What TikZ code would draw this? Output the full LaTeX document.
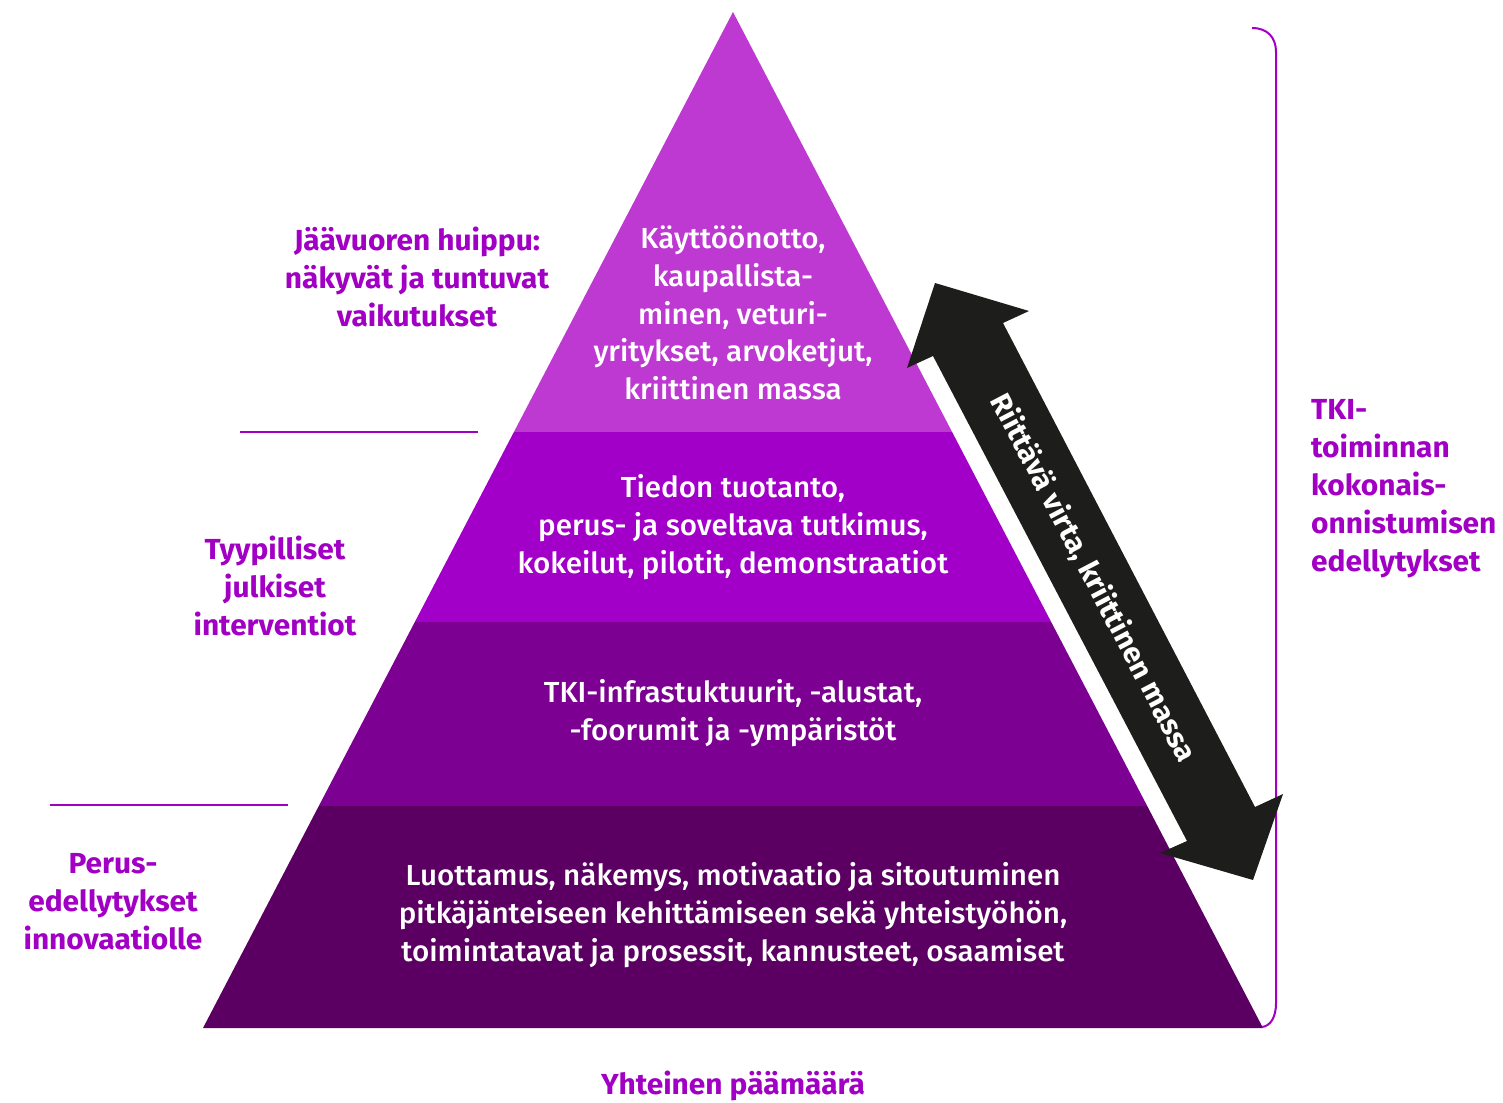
\documentclass[tikz,border=0pt]{standalone}
\usepackage{fontspec}
\setmainfont{Fira Sans}[FakeStretch=1.03]
\newfontfamily\medfont{Fira Sans Medium}[FakeStretch=1.02]
\definecolor{lone}{HTML}{BE38D2}
\definecolor{ltwo}{HTML}{A200C8}
\definecolor{lthree}{HTML}{7C0091}
\definecolor{lfour}{HTML}{5B0062}
\definecolor{lab}{HTML}{A100C4}
\definecolor{arr}{HTML}{1D1D1B}
\begin{document}
\begin{tikzpicture}[x=1pt,y=-1pt,
  intext/.style={text=white, align=center, font=\medfont\fontsize{29}{37.7}\selectfont, inner sep=0pt},
  labtext/.style={text=lab, align=center, font=\bfseries\fontsize{29}{38}\selectfont, inner sep=0pt},
  sepline/.style={draw=lab, line width=1.5pt},
  bracket/.style={draw=lab, line width=2pt}]
\useasboundingbox (0,0) rectangle (1503,1102);
% layers
\fill[lone] (733,12) -- (952.1,432) -- (513.9,432) -- cycle;
\fill[ltwo] (513.9,432) -- (952.1,432) -- (1051.2,622) -- (414.8,622) -- cycle;
\fill[lthree] (414.8,622) -- (1051.2,622) -- (1147.2,806) -- (318.8,806) -- cycle;
\fill[lfour] (318.8,806) -- (1147.2,806) -- (1263,1028) -- (203,1028) -- cycle;
% texts in layers
\node[intext] (t1) at (733,313) {Käyttöönotto,\\kaupallista-\\minen, veturi-\\yritykset, arvoketjut,\\kriittinen massa};
\node[intext] (t2) at (733,527) {Tiedon tuotanto,\\perus- ja soveltava tutkimus,\\kokeilut, pilotit, demonstraatiot};
\node[intext] (t3) at (733,713) {TKI-infrastuktuurit, -alustat,\\-foorumit ja -ympäristöt};
\node[intext] (t4) at (733,915) {Luottamus, näkemys, motivaatio ja sitoutuminen\\pitkäjänteiseen kehittämiseen sekä yhteistyöhön,\\toimintatavat ja prosessit, kannusteet, osaamiset};
% left labels
\node[labtext] (l1) at (417,277) {Jäävuoren huippu:\\näkyvät ja tuntuvat\\vaikutukset};
\node[labtext] (l2) at (275,586) {Tyypilliset\\julkiset\\interventiot};
\node[labtext] (l3) at (113,902) {Perus-\\edellytykset\\innovaatiolle};
\coordinate (s1a) at (240,432); \coordinate (s1b) at (478,432);
\coordinate (s2a) at (50,805); \coordinate (s2b) at (288,805);
\draw[sepline] (s1a) -- (s1b);
\draw[sepline] (s2a) -- (s2b);
% right label
\node[labtext, align=left, anchor=west] (r1) at (1311,489) {TKI-\\toiminnan\\kokonais-\\onnistumisen\\edellytykset};
% bottom label
\node[labtext] (b1) at (733,1086) {Yhteinen päämäärä};
% bracket
\coordinate (bt) at (1252,28);
\coordinate (bb) at (1262,1027);
\draw[bracket] (bt) .. controls (1268,28) and (1276,38) .. (1276,52) -- (1276,1003) .. controls (1276,1018) and (1270,1026) .. (bb);
% double arrow
\fill[arr] (935,283) -- (1029,311) -- (1003,323) -- (1255,807) -- (1283,794) -- (1253,880) -- (1160,853) -- (1187,841) -- (933,356) -- (907,368) -- cycle;
\node[text=white, font=\bfseries\fontsize{29}{30}\selectfont, rotate=-62.4, inner sep=0pt] (at) at (1093,578) {Riittävä virta, kriittinen massa};
\end{tikzpicture}
\end{document}
